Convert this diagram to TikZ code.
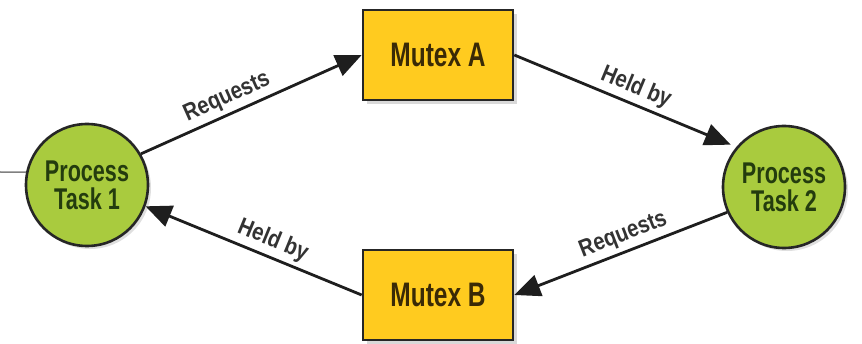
\documentclass[tikz,border=0pt]{standalone}
\usepackage{fontspec}
\setmainfont{Liberation Sans}[FakeStretch=0.72]
\newfontfamily\lblfont{Liberation Sans}[FakeStretch=0.85]
\usetikzlibrary{arrows.meta,shadows}
\definecolor{procfill}{HTML}{A9CB3E}
\definecolor{proctext}{HTML}{243C0E}
\definecolor{mutfill}{HTML}{FFCB1F}
\definecolor{muttext}{HTML}{3A2A06}
\definecolor{lbltext}{HTML}{333333}
\definecolor{edgecol}{HTML}{1E1E1E}
\begin{document}
\begin{tikzpicture}[x=1pt,y=1pt,
  proc/.style={circle,draw=black!85,line width=2.6pt,fill=procfill,minimum size=122pt,inner sep=0pt,
    align=center,font=\fontsize{30}{30}\selectfont\bfseries,text=proctext,
    drop shadow={opacity=0.25,shadow xshift=3pt,shadow yshift=-3pt}},
  mutex/.style={rectangle,draw=black!85,line width=2.6pt,fill=mutfill,minimum width=150pt,minimum height=90pt,
    font=\fontsize{34}{34}\selectfont\bfseries,text=muttext,
    drop shadow={opacity=0.3,shadow xshift=4pt,shadow yshift=-4pt}},
  conn/.style={draw=edgecol,line width=2.8pt,-{Triangle[length=26pt,width=22pt]}},
  lbl/.style={font=\lblfont\fontsize{24}{24}\selectfont\bfseries,text=lbltext,sloped,above,inner sep=4pt}]
\useasboundingbox (0,0) rectangle (862,343);
\node[proc] (t1) at (87,158) {Process\\[-2pt]Task 1};
\node[proc] (t2) at (784,156) {Process\\[-2pt]Task 2};
\node[mutex] (ma) at (438,288) {Mutex A};
\node[mutex] (mb) at (438,48) {Mutex B};
\coordinate (stray) at (0,171);
\draw[gray,line width=1.5pt] (stray) -- (t1.168);
\draw[conn] (t1.30) -- node[lbl,pos=0.42] {Requests} (ma.west);
\draw[conn,shorten >=6pt] (ma.east) -- node[lbl,pos=0.52] {Held by} (t2.140);
\draw[conn] (t2.204) -- node[lbl,pos=0.46] {Requests} (mb.east);
\draw[conn] (mb.west) -- node[lbl,pos=0.44] {Held by} (t1.340);
\end{tikzpicture}
\end{document}
